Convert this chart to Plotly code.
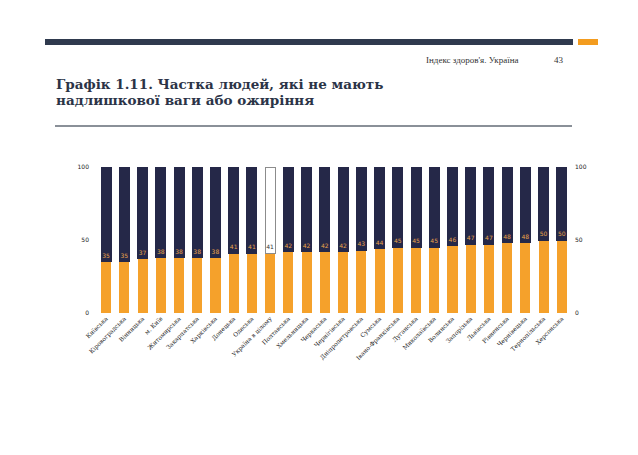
import plotly.graph_objects as go

# ── DATA ───────────────────────────────────────
regions = ['Київська', 'Кіровоградська', 'Вінницька', 'м. Київ', 'Житомирська',
           'Закарпатська', 'Харківська', 'Донецька', 'Одеська', 'Україна в цілому',
           'Полтавська', 'Хмельницька', 'Черкаська', 'Чернігівська', 'Дніпропетровська',
           'Сумська', 'Івано-Франківська', 'Луганська', 'Миколаївська', 'Волинська',
           'Запорізька', 'Львівська', 'Рівненська', 'Чернівецька', 'Тернопільська',
           'Херсонська']
share = [35, 35, 37, 38, 38, 38, 38, 41, 41, 41, 42, 42, 42, 42, 43,
         44, 45, 45, 45, 46, 47, 47, 48, 48, 50, 50]
highlight = 'Україна в цілому'
y_ticks = [0, 50, 100]

orange = '#F5A12B'
navy = '#252848'

rest = [100 - v for v in share]
top_colors = ['white' if r == highlight else navy for r in regions]
top_lines = ['#8c8c8c' if r == highlight else navy for r in regions]
text_colors = ['#333333' if r == highlight else '#E9A24A' for r in regions]

fig = go.Figure()
fig.add_trace(go.Bar(
    x=regions, y=share,
    marker=dict(color=orange, line=dict(width=0)),
    width=0.55, hoverinfo='x+y'
))
fig.add_trace(go.Bar(
    x=regions, y=rest,
    marker=dict(color=top_colors, line=dict(color=top_lines, width=1)),
    width=0.55,
    text=[str(v) for v in share],
    textposition='inside', insidetextanchor='start', textangle=0,
    textfont=dict(size=6, color=text_colors, family='DejaVu Sans'),
    constraintext='none',
    hoverinfo='skip'
))
# invisible trace on the right axis so its ticks show
fig.add_trace(go.Scatter(x=regions, y=share, yaxis='y2', mode='markers',
                         marker=dict(opacity=0, size=1), hoverinfo='skip', showlegend=False))

# the page puts the figure 8px in from the top-left corner
axis_font = dict(size=6, color='#222222', family='DejaVu Sans')
fig.update_layout(
    barmode='stack',
    showlegend=False,
    width=630, height=447,
    margin=dict(l=89, r=67, t=159, b=142, autoexpand=False),
    paper_bgcolor='white', plot_bgcolor='white',
    xaxis=dict(range=[-0.5, len(regions) - 0.5], tickangle=-45,
               tickfont=dict(size=6, color='#222222', family='DejaVu Serif'),
               showline=False, ticks='', showgrid=False, automargin=False),
    yaxis=dict(range=[0, 100], tickvals=y_ticks, tickfont=axis_font, automargin=False,
               showgrid=False, zeroline=False, ticks='', ticklabelstandoff=7),
    yaxis2=dict(range=[0, 100], tickvals=y_ticks, tickfont=axis_font, overlaying='y',
                automargin=False, side='right', showgrid=False, zeroline=False,
                ticks='', ticklabelstandoff=3),
)

# plot area is 97..571 px wide, 167..313 px tall on the page
px0, pw, py0, ph = 97, 474, 313, 146

# header strip
fig.add_shape(type='rect', xref='paper', yref='paper',
              x0=(45 - px0) / pw, x1=(573 - px0) / pw,
              y0=(py0 - 45) / ph, y1=(py0 - 39) / ph,
              fillcolor='#2F3A4E', line=dict(width=0))
fig.add_shape(type='rect', xref='paper', yref='paper',
              x0=(578 - px0) / pw, x1=(598 - px0) / pw,
              y0=(py0 - 45) / ph, y1=(py0 - 39) / ph,
              fillcolor='#F39C1F', line=dict(width=0))
# line under title
fig.add_shape(type='line', xref='paper', yref='paper',
              x0=(55 - px0) / pw, x1=(572 - px0) / pw,
              y0=(py0 - 126) / ph, y1=(py0 - 126) / ph,
              line=dict(color='#8A9098', width=2))

fig.add_annotation(text="Індекс здоров'я. Україна", xref='paper', yref='paper',
                   x=(521 - px0) / pw, y=(py0 - 60) / ph, xanchor='right', yanchor='middle',
                   showarrow=False, font=dict(size=9, color='#333333', family='Liberation Serif'))
fig.add_annotation(text='43', xref='paper', yref='paper',
                   x=(566 - px0) / pw, y=(py0 - 60) / ph, xanchor='right', yanchor='middle',
                   showarrow=False, font=dict(size=9, color='#333333', family='Liberation Serif'))
title_lines = ['Графік 1.11. Частка людей, які не мають', 'надлишкової ваги або ожиріння']
for i, line in enumerate(title_lines):
    fig.add_annotation(text='<b>' + line + '</b>', xref='paper', yref='paper',
                       x=(54 - px0) / pw, y=(py0 - 84 - 16 * i) / ph,
                       xanchor='left', yanchor='middle', showarrow=False,
                       font=dict(size=13.5, color='#2B3447', family='DejaVu Serif'))

fig.write_html("out.html")
